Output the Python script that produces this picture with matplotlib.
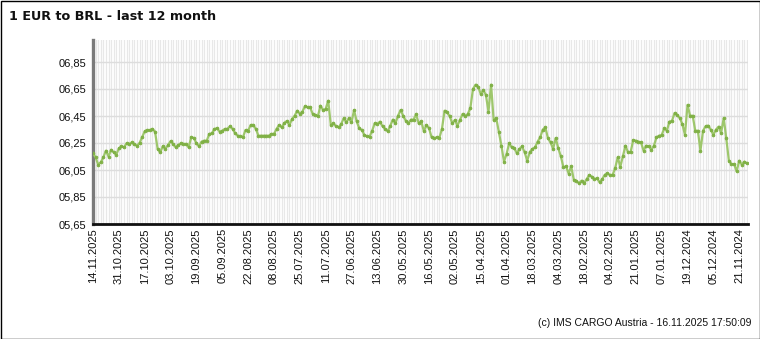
import matplotlib
matplotlib.use("Agg")
import matplotlib.pyplot as plt
from matplotlib.patches import Rectangle

# EUR -> BRL daily rate, newest first (left) to oldest (right)
rates = [
    6.174, 6.144, 6.090, 6.107, 6.144, 6.193, 6.150, 6.200, 6.180, 6.163,
    6.210, 6.225, 6.218, 6.248, 6.240, 6.255, 6.240, 6.230, 6.250, 6.292,
    6.337, 6.346, 6.346, 6.354, 6.334, 6.206, 6.180, 6.225, 6.206, 6.235,
    6.263, 6.243, 6.218, 6.235, 6.248, 6.243, 6.243, 6.218, 6.292, 6.287,
    6.248, 6.225, 6.260, 6.267, 6.267, 6.317, 6.322, 6.354, 6.359, 6.334,
    6.341, 6.354, 6.354, 6.374, 6.354, 6.322, 6.304, 6.300, 6.292, 6.346,
    6.341, 6.383, 6.383, 6.354, 6.304, 6.304, 6.304, 6.304, 6.304, 6.317,
    6.317, 6.354, 6.383, 6.366, 6.398, 6.413, 6.383, 6.428, 6.452, 6.489,
    6.467, 6.482, 6.522, 6.514, 6.514, 6.465, 6.457, 6.448, 6.526, 6.494,
    6.502, 6.563, 6.383, 6.396, 6.374, 6.366, 6.390, 6.433, 6.403, 6.433,
    6.403, 6.494, 6.410, 6.359, 6.346, 6.309, 6.300, 6.297, 6.341, 6.396,
    6.390, 6.408, 6.374, 6.354, 6.337, 6.378, 6.423, 6.396, 6.452, 6.494,
    6.452, 6.415, 6.396, 6.423, 6.423, 6.463, 6.396, 6.410, 6.337, 6.383,
    6.359, 6.292, 6.285, 6.292, 6.289, 6.354, 6.489, 6.477, 6.448, 6.396,
    6.420, 6.378, 6.423, 6.465, 6.448, 6.465, 6.510, 6.650, 6.682, 6.667,
    6.613, 6.643, 6.606, 6.482, 6.682, 6.420, 6.435, 6.334, 6.230, 6.112,
    6.169, 6.248, 6.218, 6.211, 6.174, 6.206, 6.225, 6.180, 6.119, 6.184,
    6.206, 6.218, 6.260, 6.292, 6.349, 6.366, 6.285, 6.255, 6.206, 6.287,
    6.211, 6.151, 6.070, 6.077, 6.024, 6.077, 5.978, 5.971, 5.951, 5.971,
    5.951, 5.983, 6.013, 6.000, 5.983, 5.988, 5.959, 5.983, 6.015, 6.025,
    6.013, 6.013, 6.063, 6.144, 6.074, 6.151, 6.230, 6.180, 6.184, 6.272,
    6.267, 6.260, 6.255, 6.193, 6.230, 6.225, 6.200, 6.230, 6.292, 6.304,
    6.309, 6.359, 6.341, 6.408, 6.415, 6.472, 6.457, 6.435, 6.390, 6.311,
    6.532, 6.452, 6.452, 6.341, 6.341, 6.193, 6.341, 6.374, 6.378, 6.349,
    6.311, 6.349, 6.371, 6.324, 6.435, 6.285, 6.119, 6.094, 6.094, 6.040,
    6.119, 6.090, 6.112, 6.100,
]

# labels shown every 10 trading days
date_labels = [
    "14.11.2025", "31.10.2025", "17.10.2025", "03.10.2025", "19.09.2025",
    "05.09.2025", "22.08.2025", "08.08.2025", "25.07.2025", "11.07.2025",
    "27.06.2025", "13.06.2025", "30.05.2025", "16.05.2025", "02.05.2025",
    "15.04.2025", "01.04.2025", "18.03.2025", "04.03.2025", "18.02.2025",
    "04.02.2025", "21.01.2025", "07.01.2025", "19.12.2024", "05.12.2024",
    "21.11.2024",
]

y_ticks = [5.65, 5.85, 6.05, 6.25, 6.45, 6.65, 6.85]
y_labels = ["05,65", "05,85", "06,05", "06,25", "06,45", "06,65", "06,85"]

n = len(rates)
xs = list(range(n))

W, H = 760, 339
fig = plt.figure(figsize=(W / 100, H / 100), dpi=100)
fig.patch.set_facecolor("white")

ax = fig.add_axes([93 / W, (H - 224) / H, (748 - 93) / W, (224 - 40) / H])
ax.set_facecolor("white")

ax.plot(xs, rates, color="#9ec76c", linewidth=1.6, solid_joinstyle="round",
        marker="o", markersize=2.0, markerfacecolor="#7fb045",
        markeredgecolor="#7fb045", markeredgewidth=0.6, zorder=3)

ax.set_xlim(0, n - 0.6)
ax.set_ylim(5.65, 5.65 + 184 / 135)

ax.set_xticks(list(range(0, 10 * len(date_labels), 10)))
ax.set_xticklabels(date_labels, rotation=90, fontsize=8,
                   family="Liberation Sans", color="#111111")
ax.set_xticks(xs, minor=True)
ax.set_yticks(y_ticks)
ax.set_yticklabels(y_labels, fontsize=8, family="Liberation Sans",
                   color="#111111")

ax.tick_params(axis="both", which="both", length=0)
ax.tick_params(axis="x", pad=3)
ax.tick_params(axis="y", pad=5)

ax.grid(axis="x", which="both", color="#e8e8e8", linewidth=0.9)
ax.grid(axis="y", which="major", color="#dddddd", linewidth=1.0)
ax.set_axisbelow(True)

for side in ("top", "right"):
    ax.spines[side].set_visible(False)
ax.spines["left"].set_color("#7a7a7a")
ax.spines["left"].set_linewidth(2.4)
ax.spines["bottom"].set_color("#111111")
ax.spines["bottom"].set_linewidth(2.0)

fig.text(9 / W, 1 - 17 / H, "1 EUR to BRL - last 12 month",
         fontsize=9.2, fontweight="bold", family="DejaVu Sans",
         ha="left", va="center", color="#111111")

fig.text(752 / W, 1 - 323 / H, "(c) IMS CARGO Austria - 16.11.2025 17:50:09",
         fontsize=7.5, family="Liberation Sans", ha="right", va="center",
         color="#111111")

fig.add_artist(Rectangle((0.5 / W, 0.5 / H), 1 - 1 / W, 1 - 1 / H,
                         transform=fig.transFigure, fill=False,
                         edgecolor="black", linewidth=1.0))

fig.savefig("out.png", dpi=100)
